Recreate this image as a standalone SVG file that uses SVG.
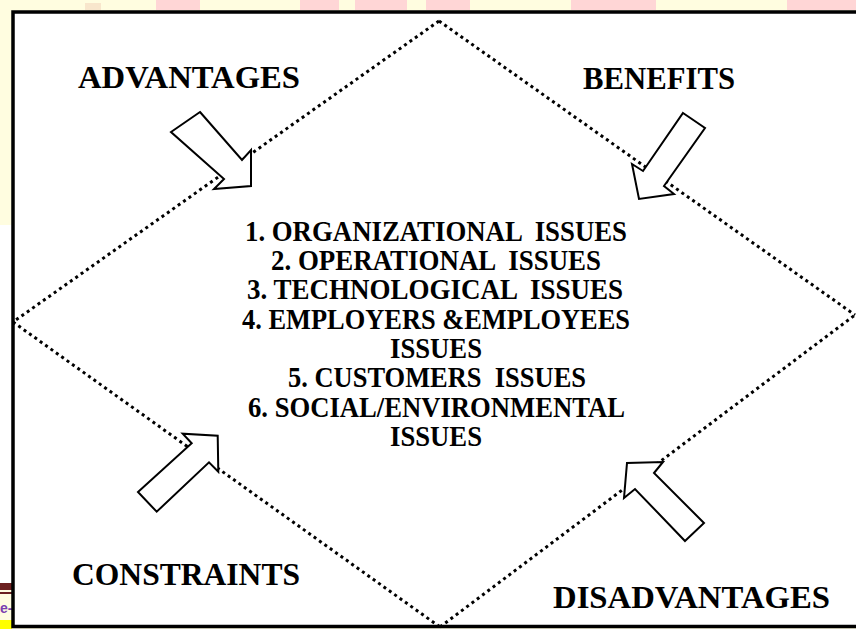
<svg xmlns="http://www.w3.org/2000/svg" width="856" height="629" viewBox="0 0 856 629">
  <defs>
    <style>
      .lbl { font-family: "Liberation Serif", "Times New Roman", serif; font-weight: bold; font-size: 32px; fill: #000; }
      .item { font-family: "Liberation Serif", "Times New Roman", serif; font-weight: bold; font-size: 29px; fill: #000; }
      .dot { fill: none; stroke: #000; stroke-width: 3; stroke-dasharray: 3 3.6; }
      .arrow { fill: #fff; stroke: #000; stroke-width: 2; stroke-linejoin: miter; }
    </style>
  </defs>

  <!-- page background -->
  <rect x="0" y="0" width="856" height="629" fill="#fffde0"/>
  <rect x="0" y="225" width="12" height="358" fill="#ffffff"/>
  <g fill="#ffd6d6">
    <rect x="156" y="0" width="44" height="10"/>
    <rect x="300" y="0" width="39" height="10"/>
    <rect x="355" y="0" width="52" height="10"/>
    <rect x="426" y="0" width="44" height="10"/>
    <rect x="571" y="0" width="85" height="10"/>
    <rect x="787" y="0" width="69" height="10"/>
  </g>
  <rect x="85" y="3" width="16" height="7" fill="#f8e6cc"/>
  <rect x="0" y="583" width="12" height="7" fill="#6b2020"/>
  <rect x="0" y="592" width="12" height="2" fill="#6b2020"/>
  <text x="0" y="613" font-family="Liberation Sans, sans-serif" font-size="14" font-weight="bold" fill="#7b3fb0">e-</text>
  <rect x="0" y="620" width="12" height="9" fill="#ffff00"/>

  <!-- frame -->
  <rect x="13" y="12" width="860" height="614.5" fill="#ffffff" stroke="#000" stroke-width="3.5"/>

  <!-- connectors: dotted diamond -->
  <g id="connectors">
    <path class="dot" d="M439,21 L13,322"/>
    <path class="dot" d="M439,21 L855,315"/>
    <path class="dot" d="M13,322 L440,627"/>
    <path class="dot" d="M440,627 L855,315"/>
  </g>

  <g id="advantages">
    <polygon class="arrow" points="200,112 242,160 251,150 251,186 214,189 224,179 171,132"/>
    <text class="lbl" x="78" y="88" textLength="222" lengthAdjust="spacingAndGlyphs">ADVANTAGES</text>
  </g>

  <g id="benefits">
    <polygon class="arrow" points="683,113 705,128 664,186 674,194 639,199 632,164 643,171"/>
    <text class="lbl" x="583" y="89" textLength="152" lengthAdjust="spacingAndGlyphs">BENEFITS</text>
  </g>

  <g id="constraints">
    <polygon class="arrow" points="138,492 191.7,443.3 182.7,433.7 217.7,435.7 218.3,471.7 209,462.3 156.7,511.7"/>
    <text class="lbl" x="72" y="585" textLength="228" lengthAdjust="spacingAndGlyphs">CONSTRAINTS</text>
  </g>

  <g id="disadvantages">
    <polygon class="arrow" points="685,541 704,523 654,473 663,462 627,463 624,498 635,489"/>
    <text class="lbl" x="553" y="608" textLength="277" lengthAdjust="spacingAndGlyphs">DISADVANTAGES</text>
  </g>

  <g id="issues">
    <text class="item" x="245" y="241" textLength="382" lengthAdjust="spacingAndGlyphs">1. ORGANIZATIONAL &#160;ISSUES</text>
    <text class="item" x="271" y="270" textLength="330" lengthAdjust="spacingAndGlyphs">2. OPERATIONAL &#160;ISSUES</text>
    <text class="item" x="247" y="299" textLength="376" lengthAdjust="spacingAndGlyphs">3. TECHNOLOGICAL &#160;ISSUES</text>
    <text class="item" x="242" y="329" textLength="388" lengthAdjust="spacingAndGlyphs">4. EMPLOYERS &amp;EMPLOYEES</text>
    <text class="item" x="390" y="358" textLength="92" lengthAdjust="spacingAndGlyphs">ISSUES</text>
    <text class="item" x="288" y="387" textLength="298" lengthAdjust="spacingAndGlyphs">5. CUSTOMERS &#160;ISSUES</text>
    <text class="item" x="248" y="417" textLength="377" lengthAdjust="spacingAndGlyphs">6. SOCIAL/ENVIRONMENTAL</text>
    <text class="item" x="390" y="446" textLength="92" lengthAdjust="spacingAndGlyphs">ISSUES</text>
  </g>
</svg>
